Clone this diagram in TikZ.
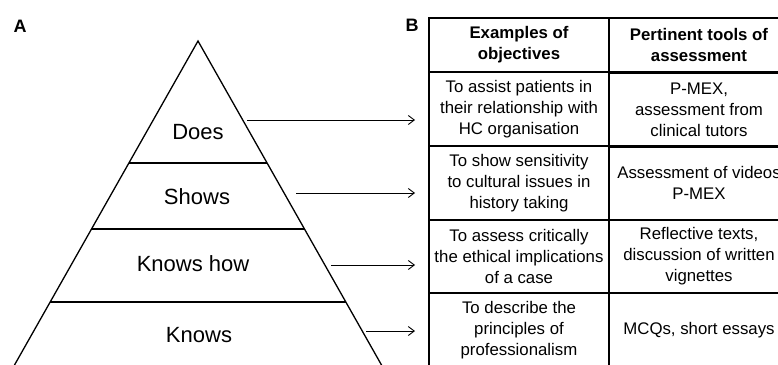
\documentclass[tikz,border=0pt]{standalone}
\usepackage{fontspec}
\setmainfont{Liberation Sans}
\usepackage{tikz}
\usetikzlibrary{arrows.meta,positioning}
\newcommand{\tierfont}{\fontsize{22}{26}\selectfont}
\newcommand{\tabfont}{\fontsize{16.8}{21}\selectfont}
\newcommand{\panelfont}{\fontsize{18}{20}\selectfont\bfseries}
\tikzset{
  tier/.style={ anchor=base, font=\tierfont, inner sep=0pt }
}
\tikzset{
  cellL/.style={ draw, line width=1.3pt, minimum width=180pt, align=center, inner sep=0pt, font=\tabfont }
}
\tikzset{
  cellR/.style={ draw, line width=1.3pt, minimum width=180pt, align=center, inner sep=0pt, font=\tabfont }
}
\tikzset{
  head/.style={ font=\tabfont\bfseries, minimum height=54pt }
}
\tikzset{
  link/.style={ -{Straight Barb[length=6pt, width=9pt]}, line width=0.9pt }
}
\begin{document}
\begin{tikzpicture}[x=1pt, y=-1pt]
      \useasboundingbox (0,0) rectangle (778,364);
      \clip (0,0) rectangle (778,364);

      \node[font=\panelfont] (A) at (20,26) {A};
      \node[font=\panelfont] (B) at (412,25) {B};

      % pyramid
      \coordinate (top) at (198,41);
      \coordinate (bl) at (6,380);
      \coordinate (br) at (390,380);
      \draw[line width=1.3pt, line join=miter] (bl) -- (top) -- (br);
      \draw[line width=1.3pt] (129,163) -- (267,163);
      \draw[line width=1.3pt] (92,229) -- (304,229);
      \draw[line width=1.3pt] (50,302) -- (346,302);

      \node[tier] (does) at (198,139) {Does};
      \node[tier] (shows) at (197,204) {Shows};
      \node[tier] (knowshow) at (193,271) {Knows how};
      \node[tier] (knows) at (199,342) {Knows};

      % table
      \node[cellL, head] (h1) at (519,45) {Examples of\\objectives};
      \node[cellR, head] (h2) at (699,45) {Pertinent tools of\\assessment};
      \node[cellL, minimum height=74pt] (o1) at (519,109) {To assist patients in\\their relationship with\\HC organisation};
      \node[cellR, minimum height=74pt] (t1) at (699,110) {P-MEX,\\assessment from\\clinical tutors};
      \node[cellL, minimum height=74pt] (o2) at (519,183) {To show sensitivity\\to cultural issues in\\history taking};
      \node[cellR, minimum height=74pt] (t2) at (699,183) {Assessment of videos\\P-MEX};
      \node[cellL, minimum height=73pt] (o3) at (519,256.5) {To assess critically\\the ethical implications\\of a case};
      \node[cellR, minimum height=73pt] (t3) at (699,256.5) {Reflective texts,\\discussion of written\\vignettes};
      \node[cellL, minimum height=74pt] (o4) at (519,330) {To describe the\\principles of\\professionalism};
      \node[cellR, minimum height=74pt] (t4) at (699,330) {MCQs, short essays};

      % arrows
      \coordinate (does-s) at (247,120);
      \coordinate (does-e) at (415,120);
      \coordinate (shows-s) at (296,193);
      \coordinate (shows-e) at (415,193);
      \coordinate (knowshow-s) at (331,265);
      \coordinate (knowshow-e) at (415,265);
      \coordinate (knows-s) at (366,331);
      \coordinate (knows-e) at (415,331);
      \draw[link] (does-s) -- (does-e);
      \draw[link] (shows-s) -- (shows-e);
      \draw[link] (knowshow-s) -- (knowshow-e);
      \draw[link] (knows-s) -- (knows-e);

    \end{tikzpicture}
\end{document}
